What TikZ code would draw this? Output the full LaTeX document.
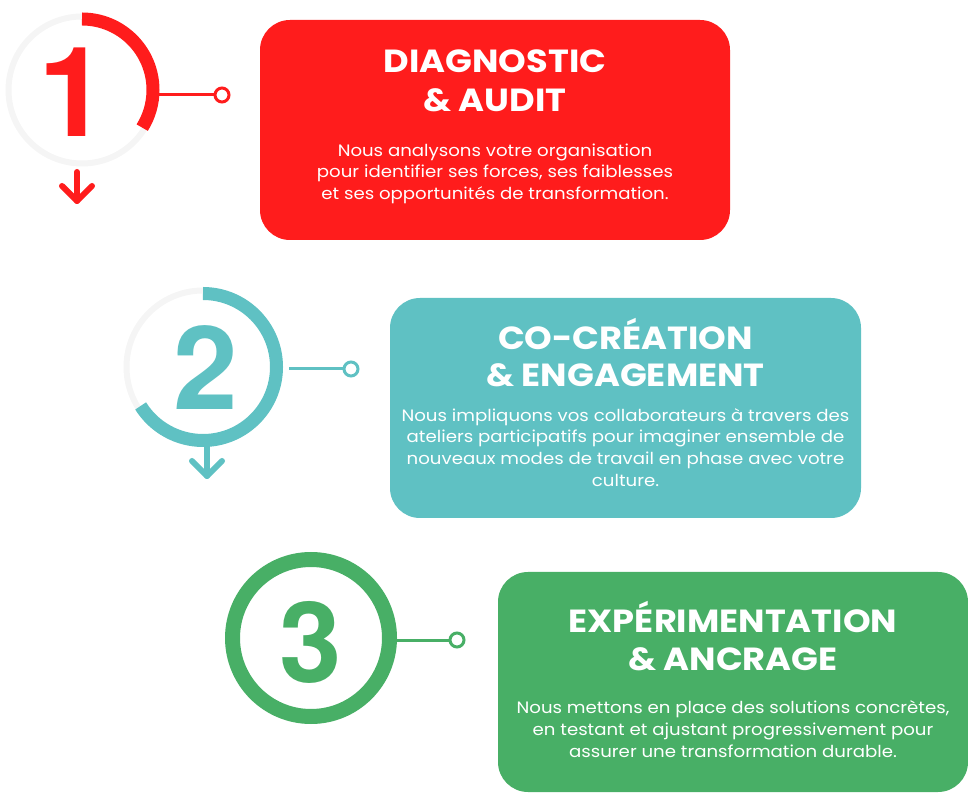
\documentclass[tikz,border=0pt]{standalone}
\usepackage{fontspec}
\setmainfont{Poppins}[FakeStretch=1.1]
\newfontfamily\digitfont{TeX Gyre Heros}
\definecolor{cred}{HTML}{FF1C1C}
\definecolor{cteal}{HTML}{5FC1C3}
\definecolor{cgreen}{HTML}{48AF66}
\definecolor{cgray}{HTML}{F5F5F5}
\begin{document}
\begin{tikzpicture}[x=1pt,y=1pt,
  box/.style={rounded corners=30pt, inner sep=0pt, outer sep=0pt, minimum width=470pt, minimum height=220pt},
  ttl/.style={text=white, font=\bfseries\fontsize{32}{38}\selectfont, anchor=base, inner sep=0pt},
  bdy/.style={text=white, font=\fontsize{16.5}{21.7}\selectfont, anchor=base, inner sep=0pt},
  dig/.style={anchor=base, inner sep=0pt},
  ring/.style={circle, inner sep=0pt, minimum size=#1},
  dot/.style={circle, draw=#1, line width=3pt, fill=white, minimum size=14pt, inner sep=0pt},
  link/.style={line width=3pt},
  arr/.style={line width=6pt, line cap=round, line join=round}]
\useasboundingbox (0,0) rectangle (968,803);

% ---------- step 1 ----------
\node[ring=155pt] (c1) at (82,713) {};
\draw[cgray, line width=6pt] (c1.center) circle[radius=73.5];
\draw[cred, line width=13pt] ([shift={(90:71)}]c1.center) arc[start angle=90, end angle=-32, radius=71];
\node[dig, text=cred] (n1) at (73,666) {\digitfont\bfseries\fontsize{125}{125}\selectfont 1};
\node[dot=cred] (d1) at (222,708) {};
\coordinate (e1) at (158.5,708);
\draw[cred, link] (e1) -- (d1);
\coordinate (a1s) at (77,631);
\coordinate (a1t) at (77,602);
\draw[cred, arr] (a1s) -- (a1t);
\draw[cred, arr] ([shift={(-15,15)}]a1t) -- (a1t) -- ([shift={(15,15)}]a1t);

\node[box, fill=cred] (b1) at (495,673) {};
\node[ttl] (t1a) at (495,730) {DIAGNOSTIC};
\node[ttl] (t1b) at (495,691) {\& AUDIT};
\node[bdy] (p1a) at (495,646) {Nous analysons votre organisation};
\node[bdy] (p1b) at (495,625) {pour identifier ses forces, ses faiblesses};
\node[bdy] (p1c) at (495,603) {et ses opportunités de transformation.};

% ---------- step 2 ----------
\node[ring=160pt] (c2) at (203,436) {};
\draw[cgray, line width=6pt] (c2.center) circle[radius=76.5];
\draw[cteal, line width=13pt] ([shift={(90:73.5)}]c2.center) arc[start angle=90, end angle=-148, radius=73.5];
\node[dig, text=cteal] (n2) at (206,393) {\digitfont\bfseries\fontsize{116}{116}\selectfont 2};
\node[dot=cteal] (d2) at (351,434) {};
\coordinate (e2) at (289,434);
\draw[cteal, link] (e2) -- (d2);
\coordinate (a2s) at (207,360);
\coordinate (a2t) at (207,327);
\draw[cteal, arr] (a2s) -- (a2t);
\draw[cteal, arr] ([shift={(-15,15)}]a2t) -- (a2t) -- ([shift={(15,15)}]a2t);

\node[box, fill=cteal, minimum width=471pt] (b2) at (625.5,395) {};
\node[ttl] (t2a) at (625.5,453) {CO-CRÉATION};
\node[ttl] (t2b) at (625.5,416) {\& ENGAGEMENT};
\node[bdy] (p2a) at (625.5,381) {Nous impliquons vos collaborateurs à travers des};
\node[bdy] (p2b) at (625.5,360) {ateliers participatifs pour imaginer ensemble de};
\node[bdy] (p2c) at (625.5,338) {nouveaux modes de travail en phase avec votre};
\node[bdy] (p2d) at (625.5,316) {culture.};

% ---------- step 3 ----------
\node[ring=172pt] (c3) at (311,165) {};
\draw[cgreen, line width=15pt] (c3.center) circle[radius=78.5];
\node[dig, text=cgreen] (n3) at (311,121) {\digitfont\bfseries\fontsize{112}{112}\selectfont 3};
\node[dot=cgreen] (d3) at (457,163) {};
\coordinate (e3) at (396,163);
\draw[cgreen, link] (e3) -- (d3);

\node[box, fill=cgreen] (b3) at (733,121) {};
\node[ttl] (t3a) at (733,171) {EXPÉRIMENTATION};
\node[ttl] (t3b) at (733,133) {\& ANCRAGE};
\node[bdy] (p3a) at (733,90) {Nous mettons en place des solutions concrètes,};
\node[bdy] (p3b) at (733,68) {en testant et ajustant progressivement pour};
\node[bdy] (p3c) at (733,46) {assurer une transformation durable.};
\end{tikzpicture}
\end{document}
